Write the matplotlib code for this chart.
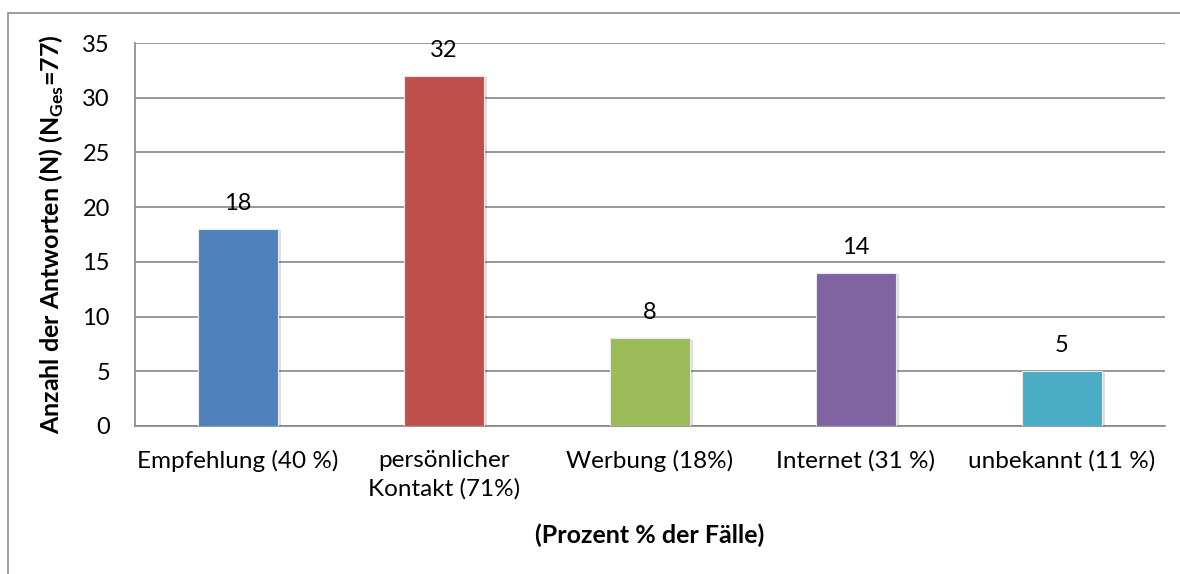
import matplotlib.pyplot as plt
from matplotlib.patches import Rectangle
import matplotlib.patheffects as pe

plt.rcParams['font.family'] = ['Lato', 'DejaVu Sans']
plt.rcParams['mathtext.fontset'] = 'custom'
plt.rcParams['mathtext.rm'] = 'Lato'
plt.rcParams['mathtext.bf'] = 'Lato:bold'

categories = ['Empfehlung (40 %)', 'persönlicher\nKontakt (71%)', 'Werbung (18%)',
              'Internet (31 %)', 'unbekannt (11 %)']
values = [18, 32, 8, 14, 5]
colors = ['#4F81BD', '#C0504D', '#9BBB59', '#8064A2', '#4BACC6']

fig = plt.figure(figsize=(11.8, 5.74), dpi=100)
ax = fig.add_axes([135 / 1180, 148 / 574, 1030 / 1180, 383 / 574])

# outer chart border (only left and top visible in the crop)
fig.add_artist(Rectangle((8 / 1180, -0.2), 1.5, (574 - 13) / 574 + 0.2,
                         transform=fig.transFigure, fill=False,
                         edgecolor='#8c8c8c', linewidth=1.2))

x = range(len(categories))
bars = ax.bar(x, values, width=0.39, color=colors, edgecolor='#e8e8e8',
              linewidth=0.8, zorder=3)
for b in bars:
    b.set_path_effects([pe.SimplePatchShadow(offset=(2, -1), alpha=0.15), pe.Normal()])

for xi, v in zip(x, values):
    ax.annotate(str(v), (xi, v), xytext=(0, 11), textcoords='offset points',
                ha='center', va='bottom', fontsize=17)

ax.set_xlim(-0.5, len(categories) - 0.5)
ax.set_ylim(0, 35)
ax.set_yticks(range(0, 36, 5))
ax.set_xticks(list(x))
ax.set_xticklabels(categories, fontsize=17.5, linespacing=1.45)
ax.tick_params(axis='x', length=0, pad=17)
ax.tick_params(axis='y', labelsize=17, length=0, pad=18)

ax.yaxis.grid(True, color='#868686', linewidth=1.2, zorder=0)
ax.set_axisbelow(True)
for s in ['top', 'right']:
    ax.spines[s].set_visible(False)
for s in ['left', 'bottom']:
    ax.spines[s].set_color('#868686')
    ax.spines[s].set_linewidth(1.2)

ax.set_ylabel(r'Anzahl der Antworten (N) (N$_{\mathbf{Ges}}$=77)',
              fontsize=18, fontweight='bold', labelpad=12)
ax.set_xlabel('(Prozent % der Fälle)', fontsize=18, fontweight='bold', labelpad=17)

fig.savefig('out.png', dpi=100)
